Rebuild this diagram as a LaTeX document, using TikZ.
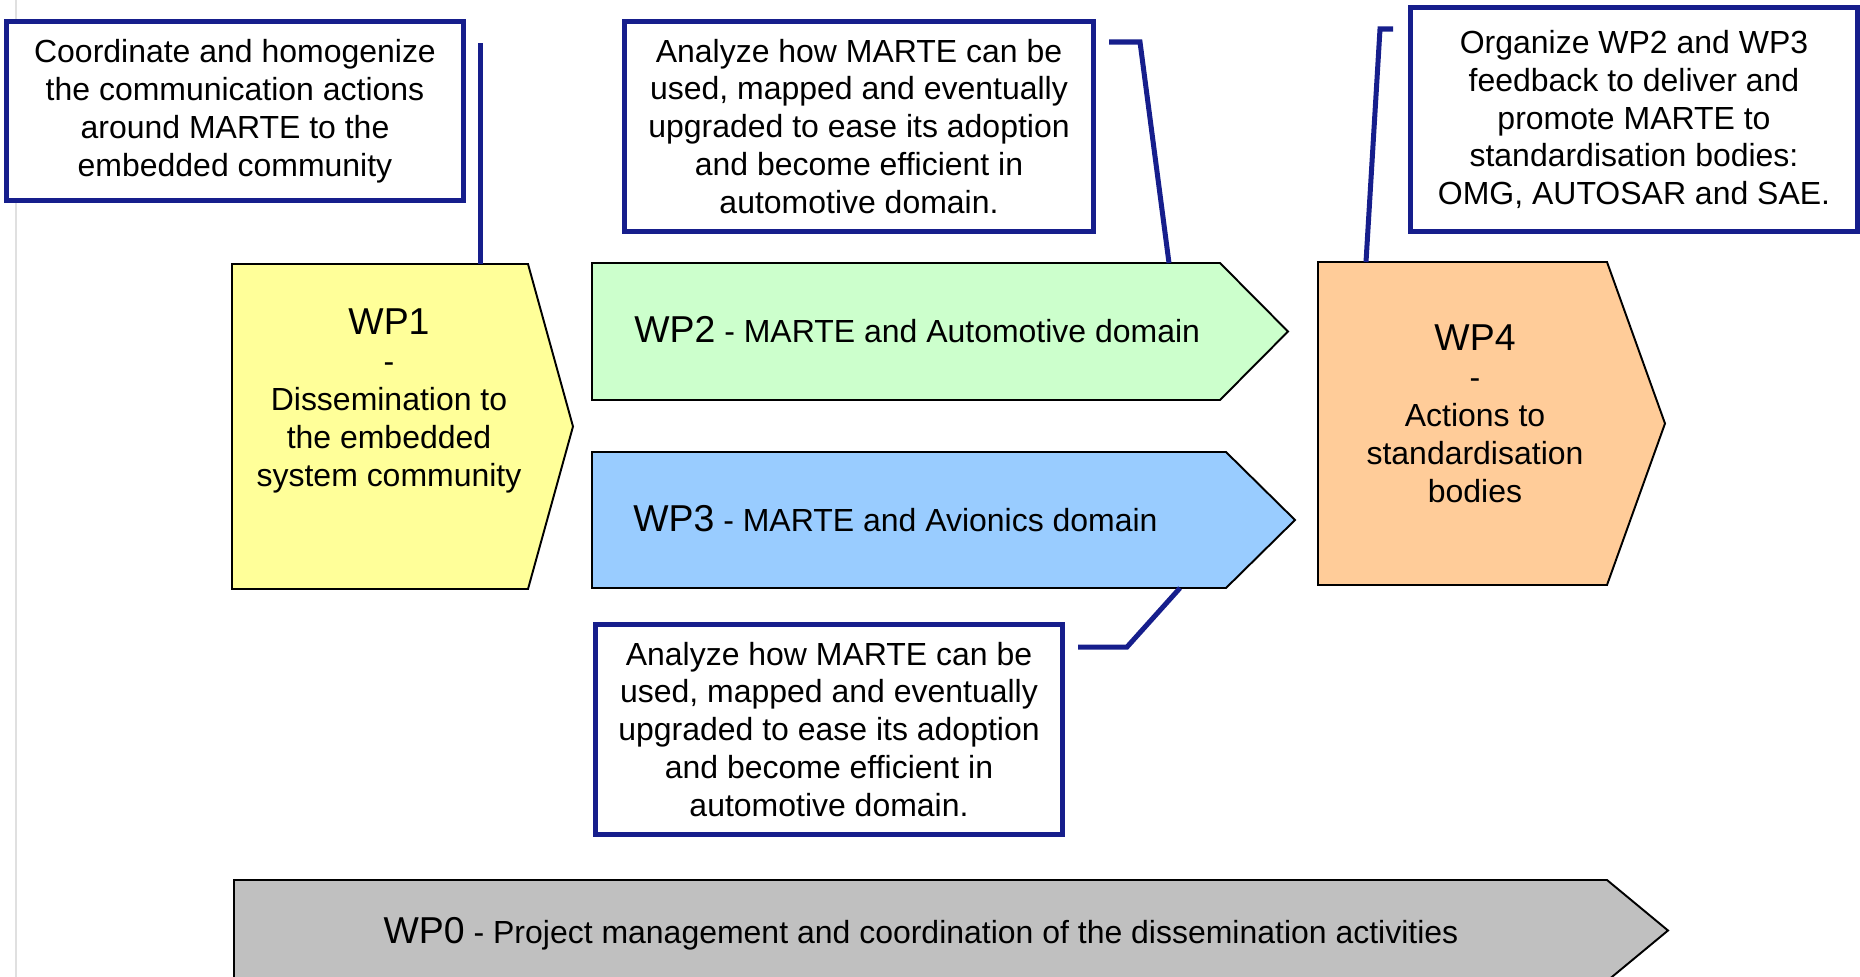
\documentclass[tikz,border=0pt]{standalone}
\usepackage{fontspec}
\setmainfont{Liberation Sans}
\usetikzlibrary{calc}
\definecolor{wpyellow}{RGB}{255,255,153}
\definecolor{wpgreen}{RGB}{204,255,204}
\definecolor{wpblue}{RGB}{153,204,255}
\definecolor{wporange}{RGB}{255,204,153}
\definecolor{wpgrey}{RGB}{192,192,192}
\definecolor{callblue}{RGB}{22,30,140}
\newcommand{\bodysize}{\fontsize{18.2}{21.6}\selectfont}
\newcommand{\wpsize}{\fontsize{21.3}{24}\selectfont}
\begin{document}
\begin{tikzpicture}[x=0.02cm, y=-0.02cm,
    callbox/.style={draw=callblue, line width=2.85pt, fill=white, inner sep=0pt, align=center, font=\bodysize},
    callline/.style={draw=callblue, line width=2.85pt},
    wptext/.style={inner sep=0pt, align=center, font=\bodysize}]
  \useasboundingbox (0,0) rectangle (1860,977);
  \clip (0,0) rectangle (1860,977);
  \draw[black!12, line width=1pt] (16,0) -- (16,977);
  \foreach \n/\l/\t/\c/\p/\b/\col in {1/232/264/528/573/589/wpyellow, 2/592/263/1220/1288/400/wpgreen, 3/592/452/1226/1295/588/wpblue, 4/1318/262/1607/1665/585/wporange, 0/234/880/1607/1668/981/wpgrey}{
    \draw[fill=\col, line width=1.1pt] (\l,\t) coordinate (wp\n-nw) -- (\c,\t) -- (\p,{(\t+\b)/2}) -- (\c,\b) -- (\l,\b) coordinate (wp\n-sw) -- cycle;
  }
  \node[wptext] (t1) at (389,401) {{\wpsize WP1}\\-\\Dissemination to\\the embedded\\system community};
  \node[wptext, anchor=west] (t2) at (634,330) {{\wpsize WP2} - MARTE and Automotive domain};
  \node[wptext, anchor=west] (t3) at (633,519) {{\wpsize WP3} - MARTE and Avionics domain};
  \node[wptext] (t4) at (1475,414) {{\wpsize WP4}\\-\\Actions to\\standardisation\\bodies};
  \node[wptext] (t0) at (921,934) {{\wpsize WP0} - Project management and coordination of the dissemination activities};

  \node[callbox, minimum width=9.14cm, minimum height=3.58cm] (c1) at (235,111) {Coordinate and homogenize\\the communication actions\\around MARTE to the\\embedded community};
  \node[callbox, minimum width=9.38cm, minimum height=4.2cm] (c2) at (859,126.5) {Analyze how MARTE can be\\used, mapped and eventually\\upgraded to ease its adoption\\and become efficient in\\automotive domain.};
  \node[callbox, minimum width=8.94cm, minimum height=4.48cm] (c3) at (1634,119.5) {Organize WP2 and WP3\\feedback to deliver and\\promote MARTE to\\standardisation bodies:\\OMG, AUTOSAR and SAE.};
  \node[callbox, minimum width=9.34cm, minimum height=4.22cm] (c4) at (829,729.5) {Analyze how MARTE can be\\used, mapped and eventually\\upgraded to ease its adoption\\and become efficient in\\automotive domain.};

  \coordinate (k1) at (480,43);
  \coordinate (k2) at (1109,42);
  \coordinate (k3) at (1393,29);
  \coordinate (k4) at (1078,647);
  \draw[callline] (k1) -- (k1 |- wp1-nw);
  \draw[callline] (k2) -- ++(31,0) -- ($(wp2-nw)+(577,0)$);
  \draw[callline] (k3) -- ++(-13,0) -- ($(wp4-nw)+(48,0)$);
  \draw[callline] (k4) -- ++(49,0) -- ($(wp3-sw)+(588,0)$);
\end{tikzpicture}
\end{document}
